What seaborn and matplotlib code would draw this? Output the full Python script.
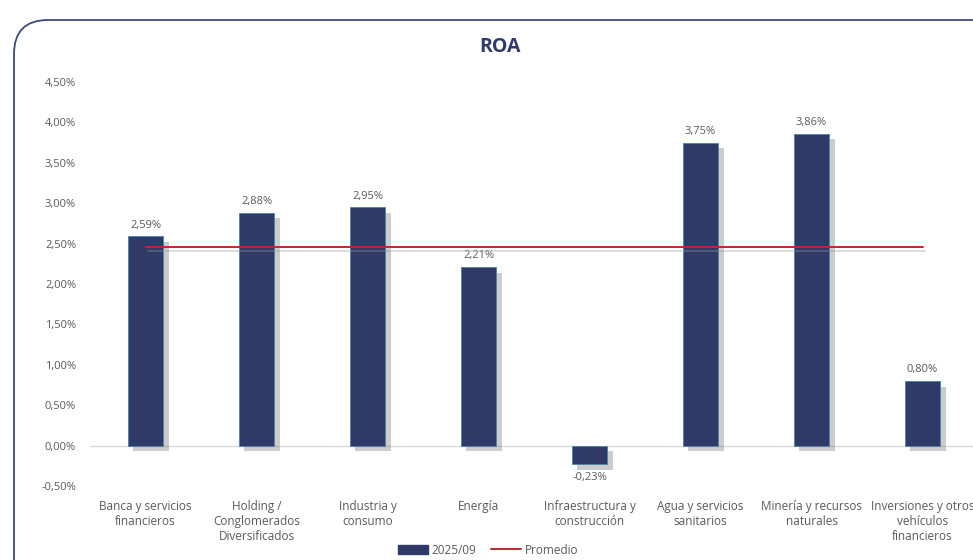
import pandas as pd
import seaborn as sns
import matplotlib.pyplot as plt
import matplotlib.patheffects as pe
from matplotlib.patches import FancyBboxPatch, Patch
from matplotlib.lines import Line2D
from matplotlib.ticker import FuncFormatter

# Datos ROA por sector
sectores = ["Banca y servicios\nfinancieros", "Holding /\nConglomerados\nDiversificados",
            "Industria y\nconsumo", "Energía", "Infraestructura y\nconstrucción",
            "Agua y servicios\nsanitarios", "Minería y recursos\nnaturales",
            "Inversiones y otros\nvehículos\nfinancieros"]
roa = [2.59, 2.88, 2.95, 2.21, -0.23, 3.75, 3.86, 0.80]
promedio = 2.46
yticks = [-0.5, 0.0, 0.5, 1.0, 1.5, 2.0, 2.5, 3.0, 3.5, 4.0, 4.5]

navy = "#2F3A68"
gris = "#595959"
rojo = "#C0262D"

sns.set_style("white")
plt.rcParams['font.family'] = ['Open Sans', 'DejaVu Sans']

df = pd.DataFrame({"sector": sectores, "roa": roa})

fig = plt.figure(figsize=(9.73, 5.6), dpi=100)
ax = fig.add_axes([90 / 973, 1 - 486 / 560, 888 / 973, 404 / 560])

# marco redondeado
marco = FancyBboxPatch((14 / 973, -0.2), 1.2, 1.2 - 20 / 560,
                       boxstyle="round,pad=0,rounding_size=0.035",
                       transform=fig.transFigure, fill=False,
                       edgecolor="#3B4A7A", linewidth=1.3, zorder=0,
                       mutation_aspect=973 / 560)
fig.patches.append(marco)

sns.barplot(data=df, x="sector", y="roa", color=navy, width=0.32,
            saturation=1, ax=ax, zorder=3)
for bar in ax.patches:
    bar.set_edgecolor("#4A84A8")
    bar.set_linewidth(0.6)
    bar.set_path_effects([pe.SimplePatchShadow(offset=(4, -4), shadow_rgbFace="#808080", alpha=0.4),
                          pe.Normal()])

# etiquetas de datos
for i, v in enumerate(roa):
    txt = f"{v:.2f}%".replace(".", ",")
    if v >= 0:
        ax.text(i, v + 0.07, txt, ha="center", va="bottom", fontsize=8, color=gris)
    else:
        ax.text(i, v - 0.1, txt, ha="center", va="top", fontsize=8, color=gris)

# linea promedio
ax.plot([0, len(roa) - 1], [promedio, promedio], color=rojo, linewidth=1.4, zorder=4,
        path_effects=[pe.SimpleLineShadow(offset=(2, -3), shadow_color="#999999", alpha=0.35),
                      pe.Normal()])

ax.axhline(0, color="#D9D9D9", linewidth=1, zorder=1)
ax.set_ylim(-0.5, 4.5)
ax.set_xlim(-0.5, len(roa) - 0.5)
ax.set_yticks(yticks)
ax.yaxis.set_major_formatter(FuncFormatter(lambda v, p: f"{v:.2f}%".replace(".", ",")))
ax.tick_params(axis="y", labelsize=8, labelcolor=gris, length=0, pad=10)
ax.tick_params(axis="x", labelsize=8.5, labelcolor=gris, length=0, pad=10)
ax.set_xlabel("")
ax.set_ylabel("")
sns.despine(ax=ax, left=True, bottom=True, top=True, right=True)

fig.text(500 / 973, 1 - 47 / 560, "ROA", ha="center", va="center", fontsize=14,
         fontweight="bold", color=navy)

handles = [Patch(facecolor=navy, edgecolor=navy, label="2025/09"),
           Line2D([0], [0], color=rojo, linewidth=1.4, label="Promedio")]
fig.legend(handles=handles, loc="center", bbox_to_anchor=(488 / 973, 10 / 560), ncol=2,
           frameon=False, fontsize=8.5, labelcolor=gris, handlelength=2.6, handleheight=0.8,
           handletextpad=0.3, columnspacing=1.2, borderpad=0.1)

fig.savefig("out.png", dpi=100)
